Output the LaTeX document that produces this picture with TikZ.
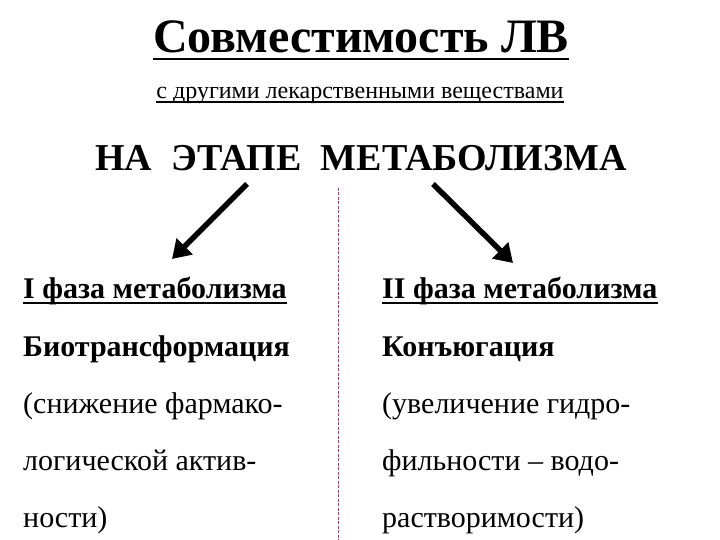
\documentclass[tikz,border=0pt]{standalone}
\usepackage{fontspec}
\setmainfont{Liberation Serif}
\usetikzlibrary{arrows.meta}

\definecolor{dashred}{RGB}{190,50,85}

\tikzset{
  txt/.style={inner sep=0pt, anchor=base west, font=\fontsize{30}{32}\selectfont},
  bold/.style={txt, font=\fontsize{30}{32}\selectfont\bfseries},
  uline/.style={line width=1.8pt},
  bigarrow/.style={line width=5.5pt, -{Triangle[length=18pt,width=22pt]}},
  divider/.style={dashred, line width=0.7pt, dash pattern=on 3pt off 1.5pt}
}

\begin{document}
\begin{tikzpicture}[x=1pt, y=-1pt]
			%%%%% START %%%%%
			\useasboundingbox (0,0) rectangle (720,540);
			
			% heading
			\node[inner sep=0pt, anchor=base, font=\fontsize{48}{50}\selectfont\bfseries] (title) at (361, 53) {Совместимость ЛВ};
			\draw[uline, line width=2.6pt] ([yshift=-6pt]title.base west) -- ([yshift=-6pt]title.base east);
			
			\node[inner sep=0pt, anchor=base, font=\fontsize{24}{26}\selectfont] (sub) at (360, 99) {с другими лекарственными веществами};
			\draw[line width=1.1pt] ([yshift=-3pt]sub.base west) -- ([yshift=-3pt]sub.base east);
			
			\node[inner sep=0pt, anchor=base, font=\fontsize{38}{40}\selectfont\bfseries] (stage) at (361, 171) {НА~~ЭТАПЕ~~МЕТАБОЛИЗМА};
			
			% arrows
			\coordinate (lfrom) at (247, 184);
			\coordinate (lto) at (172, 259);
			\coordinate (rfrom) at (433, 184);
			\coordinate (rto) at (513, 263);
			\draw[bigarrow] (lfrom) -- (lto);
			\draw[bigarrow] (rfrom) -- (rto);
			
			% divider
			\coordinate (dtop) at (338, 188);
			\coordinate (dbot) at (338, 540);
			\draw[divider] (dtop) -- (dbot);
			
			% left column
			\node[bold] (phase1) at (23, 298) {I фаза метаболизма};
			\draw[uline] ([yshift=-5pt]phase1.base west) -- ([yshift=-5pt]phase1.base east);
			\node[bold] (bio) at (23, 356) {Биотрансформация};
			\node[txt] (l3) at (23, 413) {(снижение фармако-};
			\node[txt] (l4) at (23, 470) {логической актив-};
			\node[txt] (l5) at (23, 527) {ности)};
			
			% right column
			\node[bold] (phase2) at (382, 298) {II фаза метаболизма};
			\draw[uline] ([yshift=-5pt]phase2.base west) -- ([yshift=-5pt]phase2.base east);
			\node[bold] (conj) at (382, 356) {Конъюгация};
			\node[txt] (r3) at (382, 413) {(увеличение гидро-};
			\node[txt] (r4) at (382, 470) {фильности – водо-};
			\node[txt] (r5) at (382, 527) {растворимости)};
			
			%%%%% END %%%%%
\end{tikzpicture}
\end{document}
